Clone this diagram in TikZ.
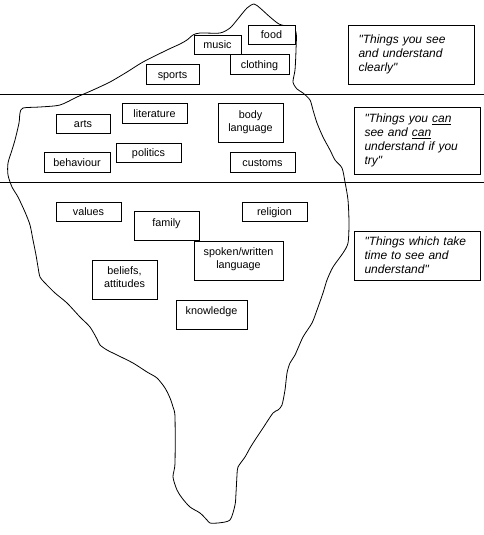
\documentclass[tikz,border=0pt]{standalone}
\usepackage{fontspec}
\setmainfont{Liberation Sans}
\newfontfamily\quotefont{Liberation Sans}
\begin{document}
\begin{tikzpicture}[x=1pt,y=-1pt,
  every node/.style={inner sep=0pt},
  lbox/.style={draw, line width=0.8pt, fill=white, align=center,
    font=\fontsize{10.8}{13}\selectfont, text height=8pt, text depth=0pt},
  lbox2/.style={lbox, text height=21pt},
  qbox/.style={draw, line width=0.8pt, fill=white, align=left,
    inner xsep=10.5pt, text width=105pt, minimum width=126pt,
    font=\fontsize{12}{13.8}\quotefont\itshape},
  berg/.style={line width=0.8pt},
  level/.style={line width=0.8pt}]
\useasboundingbox (0,0) rectangle (484,535);
% iceberg outline
\draw[berg] plot[smooth cycle, tension=0.45] coordinates {
 (254,4) (260,8) (270,17) (279,24) (289,27) (296,32) (296,50) (295,70) (293,82)
 (297,89) (303,93) (310,100) (313,110) (317,123) (323,137) (330,150) (335,160)
 (342,168) (345,182) (348,200) (349,223) (348,243) (343,253) (333,267) (327,280)
 (323,293) (317,310) (312,323) (303,337) (295,355) (290,363) (287,373) (285,390)
 (282,405) (278,410) (273,413) (263,428) (255,440) (250,448) (245,457) (238,467)
 (237,475) (236,493) (235,505) (230,520) (218,523) (210,523) (207,520) (200,513)
 (190,507) (182,498) (177,490) (173,477) (175,463) (175,417) (173,407) (170,398)
 (165,388) (157,378) (147,372) (133,363) (117,355) (107,350) (100,345) (97,339)
 (90,327) (80,317) (67,303) (55,293) (45,283) (40,277) (38,267) (36,255) (33,240)
 (30,225) (25,212) (18,197) (12,187) (8,175) (8,163) (12,150) (15,140) (19,123)
 (20,113) (23,108) (40,107) (60,105) (77,97) (93,90) (110,82) (127,72) (143,62)
 (167,50) (180,44) (187,40) (193,35) (200,33) (220,33) (230,28) (237,20) (247,8)};
% water levels
\coordinate (l1a) at (0,94);   \coordinate (l1b) at (484,94);
\coordinate (l2a) at (0,182);  \coordinate (l2b) at (484,182);
\draw[level] (l1a) -- (l1b);
\draw[level] (l2a) -- (l2b);
% boxes: visible
\node[lbox, minimum width=47pt, minimum height=19pt] (food) at (271.5,34.5) {food};
\node[lbox, minimum width=47pt, minimum height=19pt] (music) at (217.5,44.5) {music};
\node[lbox, minimum width=59pt, minimum height=20pt] (clothing) at (259.5,64) {clothing};
\node[lbox, minimum width=53pt, minimum height=20pt] (sports) at (172.5,74) {sports};
% middle
\node[lbox, minimum width=54pt, minimum height=19pt] (arts) at (83,123.5) {arts};
\node[lbox, minimum width=65pt, minimum height=20pt] (literature) at (154.5,113) {literature};
\node[lbox2, minimum width=65pt, minimum height=39pt, text depth=4pt] (body) at (250.5,122.5) {body\\language};
\node[lbox, minimum width=65pt, minimum height=19pt] (politics) at (148.5,152.5) {politics};
\node[lbox, minimum width=66pt, minimum height=20pt] (behaviour) at (77,162) {behaviour};
\node[lbox, minimum width=65pt, minimum height=20pt] (customs) at (262.5,162) {customs};
% deep
\node[lbox, minimum width=65pt, minimum height=19pt] (values) at (88.5,211.5) {values};
\node[lbox, minimum width=65pt, minimum height=29pt, text depth=7pt] (family) at (166.5,225.5) {family};
\node[lbox, minimum width=65pt, minimum height=19pt] (religion) at (274.5,211.5) {religion};
\node[lbox2, minimum width=89pt, minimum height=39pt, text depth=5pt] (spoken) at (238.5,260.5) {spoken/written\\language};
\node[lbox2, minimum width=65pt, minimum height=39pt, text depth=5pt] (beliefs) at (124.5,279.5) {beliefs,\\attitudes};
\node[lbox, minimum width=71pt, minimum height=29pt, text depth=9pt] (knowledge) at (211.5,314.5) {knowledge};
% quotes
\node[qbox, minimum height=59pt] (q1) at (411,54.5) {"Things you see\\and understand\\clearly"};
\node[qbox, minimum height=67pt] (q2) at (417,140.5) {"Things you \underline{can}\\see and \underline{can}\\understand if you\\try"};
\node[qbox, minimum height=49pt] (q3) at (417,255.5) {"Things which take\\time to see and\\understand"};
\end{tikzpicture}
\end{document}
